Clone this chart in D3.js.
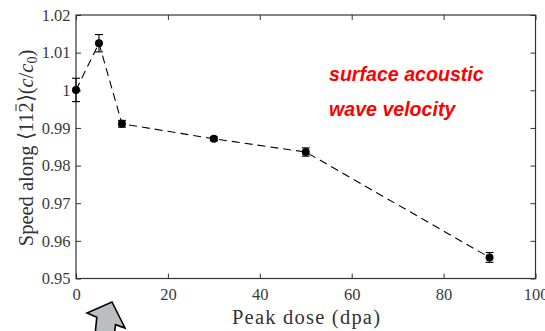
<!DOCTYPE html>
<html>
<head>
<meta charset="utf-8">
<script src="https://cdn.jsdelivr.net/npm/d3@7"></script>
<style>
  body { margin: 0; background: #fff; }
  svg { display: block; }
</style>
</head>
<body>
<div id="chart"></div>
<script>
'use strict'

// data
const dose = [0, 5, 10, 30, 50, 90]
const speed = [1.0001, 1.0125, 0.9911, 0.9871, 0.9836, 0.9556]
const speedErr = [0.0031, 0.0023, 0.0009, 0.0005, 0.0011, 0.0013]
const xTicks = [0, 20, 40, 60, 80, 100]
const yTicks = [0.95, 0.96, 0.97, 0.98, 0.99, 1.00, 1.01, 1.02]
const noteLines = ['surface acoustic', 'wave velocity']

const width = 545
const height = 331
const plotLeft = 76
const plotRight = 535.5
const plotTop = 15
const plotBottom = 278.5
const axisColor = '#333'
const serif = 'Liberation Serif, serif'

const svg = d3.select('#chart')
  .append('svg')
  .attr('width', width)
  .attr('height', height)

const x = d3.scaleLinear().domain([0, 100]).range([plotLeft, plotRight])
const y = d3.scaleLinear().domain([0.95, 1.02]).range([plotBottom, plotTop])

const yFmt = d => (d === 1 ? '1' : d3.format('.2f')(d))

function styleAxis (g) {
  g.attr('font-family', serif)
  g.select('.domain').remove()
  g.selectAll('.tick line').attr('stroke', axisColor)
  g.selectAll('.tick text')
    .attr('font-family', serif)
    .attr('font-size', 16.5)
    .attr('fill', '#3a3a3a')
}

// bottom / left axes with ticks pointing inward
svg.append('g')
  .attr('transform', `translate(0,${plotBottom})`)
  .call(d3.axisBottom(x).tickValues(xTicks).tickSizeInner(-5).tickSizeOuter(0).tickPadding(10))
  .call(styleAxis)

svg.append('g')
  .attr('transform', `translate(${plotLeft},0)`)
  .call(d3.axisLeft(y).tickValues(yTicks).tickFormat(yFmt).tickSizeInner(-5).tickSizeOuter(0).tickPadding(5.5))
  .call(styleAxis)

// mirrored ticks on top and right
svg.append('g')
  .attr('transform', `translate(0,${plotTop})`)
  .call(d3.axisTop(x).tickValues(xTicks).tickSizeInner(-5).tickSizeOuter(0).tickFormat(''))
  .call(styleAxis)

svg.append('g')
  .attr('transform', `translate(${plotRight},0)`)
  .call(d3.axisRight(y).tickValues(yTicks).tickSizeInner(-5).tickSizeOuter(0).tickFormat(''))
  .call(styleAxis)

// frame
svg.append('rect')
  .attr('x', plotLeft)
  .attr('y', plotTop)
  .attr('width', plotRight - plotLeft)
  .attr('height', plotBottom - plotTop)
  .attr('fill', 'none')
  .attr('stroke', axisColor)
  .attr('stroke-width', 1.2)

const points = dose.map((d, i) => ({ x: d, y: speed[i], e: speedErr[i] }))

// dashed connecting line
svg.append('path')
  .datum(points)
  .attr('fill', 'none')
  .attr('stroke', '#000')
  .attr('stroke-width', 1.1)
  .attr('stroke-dasharray', '8,5')
  .attr('d', d3.line().x(d => x(d.x)).y(d => y(d.y)))

// error bars
const err = svg.append('g')
  .attr('stroke', '#000')
  .attr('stroke-width', 1.1)
err.selectAll('line.bar')
  .data(points)
  .enter()
  .append('line')
  .attr('x1', d => x(d.x))
  .attr('x2', d => x(d.x))
  .attr('y1', d => y(d.y - d.e))
  .attr('y2', d => y(d.y + d.e))
err.selectAll('line.cap-hi')
  .data(points)
  .enter()
  .append('line')
  .attr('x1', d => x(d.x) - 4)
  .attr('x2', d => x(d.x) + 4)
  .attr('y1', d => y(d.y + d.e))
  .attr('y2', d => y(d.y + d.e))
err.selectAll('line.cap-lo')
  .data(points)
  .enter()
  .append('line')
  .attr('x1', d => x(d.x) - 4)
  .attr('x2', d => x(d.x) + 4)
  .attr('y1', d => y(d.y - d.e))
  .attr('y2', d => y(d.y - d.e))

svg.selectAll('circle.pt')
  .data(points)
  .enter()
  .append('circle')
  .attr('class', 'pt')
  .attr('cx', d => x(d.x))
  .attr('cy', d => y(d.y))
  .attr('r', 4)
  .attr('fill', '#000')

// axis titles
svg.append('text')
  .attr('x', 306)
  .attr('y', 324)
  .attr('text-anchor', 'middle')
  .attr('font-family', serif)
  .attr('font-size', 20.5)
  .attr('textLength', 148)
  .attr('lengthAdjust', 'spacing')
  .attr('fill', '#333')
  .text('Peak dose (dpa)')

const ylabG = svg.append('g')
  .attr('transform', 'translate(32.5,148) rotate(-90)')
const ylab = ylabG.append('text')
  .attr('text-anchor', 'middle')
  .attr('font-family', serif)
  .attr('font-size', 20.5)
  .attr('fill', '#333')
ylab.append('tspan').text('Speed along \u27E811')
const barred = ylab.append('tspan').text('2')
ylab.append('tspan').text('\u27E9(')
ylab.append('tspan').attr('font-style', 'italic').text('c')
ylab.append('tspan').text('/')
ylab.append('tspan').attr('font-style', 'italic').text('c')
ylab.append('tspan').attr('font-size', 14).attr('dy', 4).text('0')
ylab.append('tspan').attr('dy', -4).text(')')

// overline on the barred index
const bb = barred.node().getBBox()
ylabG.append('line')
  .attr('x1', bb.x + 1.5)
  .attr('x2', bb.x + bb.width - 1.5)
  .attr('y1', bb.y + 1.5)
  .attr('y2', bb.y + 1.5)
  .attr('stroke', '#333')
  .attr('stroke-width', 1)

// annotation
svg.append('g')
  .selectAll('text')
  .data(noteLines)
  .enter()
  .append('text')
  .attr('x', 329)
  .attr('y', (d, i) => 80.5 + i * 35)
  .attr('font-family', 'Liberation Sans, Arial, sans-serif')
  .attr('font-weight', 'bold')
  .attr('font-style', 'italic')
  .attr('font-size', 19.6)
  .attr('fill', '#ff0000')
  .text(d => d)

// gray arrow at the bottom, pointing up
const arrowPts = [[112, 302], [125, 328], [115.5, 324.7], [113, 345], [94, 345], [96.8, 317.3], [87, 313]]
svg.append('path')
  .attr('d', d3.line()(arrowPts) + 'Z')
  .attr('fill', '#bcbdc0')
  .attr('stroke', '#000')
  .attr('stroke-width', 1.6)
  .attr('stroke-linejoin', 'miter')
</script>
</body>
</html>
